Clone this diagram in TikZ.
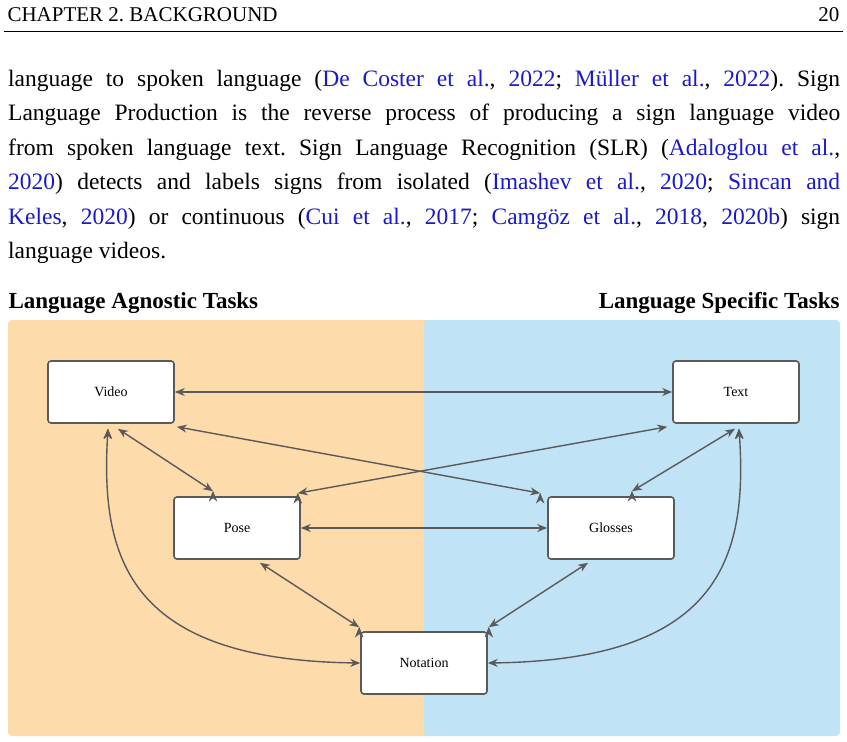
\documentclass[tikz,border=0pt]{standalone}
\usepackage{fontspec}
\setmainfont{Liberation Serif}
\usepackage{xcolor}
\usetikzlibrary{arrows.meta}
\definecolor{agnostic}{HTML}{FDDBAB}
\definecolor{specific}{HTML}{C0E3F5}
\definecolor{edgegray}{HTML}{5A5A5A}
\definecolor{citeblue}{HTML}{1A1ACC}
\newcommand{\cit}[1]{{\color{citeblue}#1}}
\begin{document}
\frenchspacing
\begin{tikzpicture}[x=1pt,y=-1pt,
	task/.style={rectangle, rounded corners=3pt, fill=white, draw=edgegray,
		line width=1.6pt, minimum width=126pt, minimum height=62pt,
		font=\fontsize{14}{16}\selectfont},
	link/.style={{Stealth[length=10pt,width=8pt]}-{Stealth[length=10pt,width=8pt]},
		draw=edgegray, line width=1.4pt}]
		\useasboundingbox (0,0) rectangle (847,742);

		% page header
		\node[anchor=west, font=\fontsize{21}{22}\selectfont] (chap) at (4,15) {CHAPTER 2. BACKGROUND};
		\node[anchor=east, font=\fontsize{21}{22}\selectfont] (page) at (843,15) {20};
		\draw[line width=0.6pt] (4,31) -- (843,31);

		% paragraph
		\node[anchor=north west, text width=832pt, align=justify, inner sep=0pt,
			font=\fontsize{23.5}{34.4}\selectfont] (para) at (8,70) {%
			language to spoken language (\cit{De Coster et al.}, \cit{2022}; \cit{Müller et al.}, \cit{2022}). Sign\linebreak
			Language Production is the reverse process of producing a sign language video\linebreak
			from spoken language text. Sign Language Recognition (SLR) (\cit{Adaloglou et al.},\linebreak
			\cit{2020}) detects and labels signs from isolated (\cit{Imashev et al.}, \cit{2020}; \cit{Sincan and}\linebreak
			\cit{Keles}, \cit{2020}) or continuous (\cit{Cui et al.}, \cit{2017}; \cit{Camgöz et al.}, \cit{2018}, \cit{2020b}) sign\linebreak
			language videos.};

		% regions
		\fill[agnostic, rounded corners=4pt] (8,320) rectangle (430,736);
		\fill[specific, rounded corners=4pt] (424,320) rectangle (840,736);
		\fill[agnostic] (418,320) rectangle (424,736);
		\node[anchor=west, font=\bfseries\fontsize{23}{25}\selectfont] (agn) at (5,303) {Language Agnostic Tasks};
		\node[anchor=east, font=\bfseries\fontsize{23}{25}\selectfont] (spec) at (843,303) {Language Specific Tasks};

		% tasks
		\node[task] (V) at (111,392) {Video};
		\node[task] (T) at (736,392) {Text};
		\node[task] (P) at (237,528) {Pose};
		\node[task] (G) at (611,528) {Glosses};
		\node[task] (N) at (424,663) {Notation};

		\draw[link] (V) -- (T);
		\draw[link] (P) -- (G);
		\draw[link] (V.south) ++(7,5) coordinate (v1) (P.north) ++(-24,-5) coordinate (p1);
		\draw[link] (v1) -- (p1);
		\draw[link] (V.south east) ++(2,3) coordinate (v2) (G.north west) ++(-7,-3) coordinate (g2);
		\draw[link] (v2) -- (g2);
		\draw[link] (T.south west) ++(-5,3) coordinate (t1) (P.north east) ++(-3,-3) coordinate (p2);
		\draw[link] (t1) -- (p2);
		\draw[link] (T.south) ++(-1,5) coordinate (t2) (G.north) ++(21,-5) coordinate (g1);
		\draw[link] (t2) -- (g1);
		\draw[link] (P.south) ++(23,3) coordinate (p3) (N.north west) ++(-1,-4) coordinate (n1);
		\draw[link] (p3) -- (n1);
		\draw[link] (G.south) ++(-23,3) coordinate (g3) (N.north east) ++(1,-4) coordinate (n2);
		\draw[link] (g3) -- (n2);
		\draw[link] (V.south) ++(-3,5) coordinate (v3);
		\draw[link] (v3) .. controls (100,560) and (130,660) .. (N.west);
		\draw[link] (T.south) ++(3,5) coordinate (t3);
		\draw[link] (t3) .. controls (748,560) and (718,660) .. (N.east);
	\end{tikzpicture}
\end{document}
